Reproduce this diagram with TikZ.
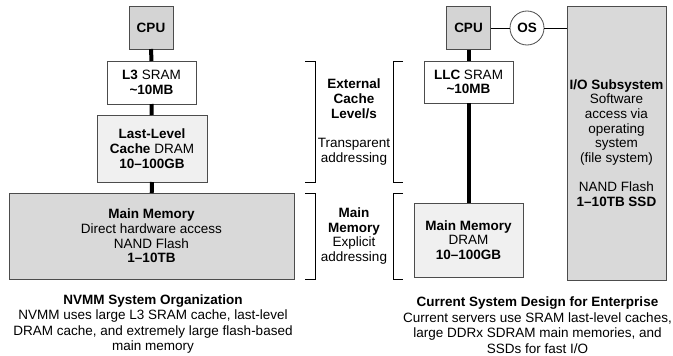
\documentclass[tikz,border=0pt]{standalone}
\usepackage{fontspec}
\setmainfont{Liberation Sans}

\definecolor{cpugray}{gray}{0.83}
\definecolor{memgray}{gray}{0.85}
\definecolor{palegray}{gray}{0.94}
\tikzset{
	box/.style={draw=black!70,line width=0.8pt,align=center,inner sep=0,outer sep=0},
	link/.style={line width=4pt},
	wire/.style={line width=0.8pt},
	brace/.style={line width=0.8pt},
	note/.style={align=center,inner sep=0},
	caption/.style={note,font=\fontsize{13.5}{15.5}\selectfont},
}

\begin{document}
\begin{tikzpicture}[x=1pt,y=-1pt,font=\fontsize{13.5}{14.7}\selectfont]
	\useasboundingbox (0,0) rectangle (673,356);
	% NVMM column
	\node[box,fill=cpugray,minimum width=44,minimum height=43] (cpuL) at (151,27.5) {\textbf{CPU}};
	\node[box,fill=white,minimum width=89,minimum height=43] (l3) at (151.5,82.5) {\textbf{L3} SRAM\\\textbf{\textasciitilde10MB}};
	\node[box,fill=palegray,minimum width=110,minimum height=67] (llc) at (152,148.5) {\textbf{Last-Level}\\\textbf{Cache} DRAM\\\textbf{10--100GB}};
	\node[box,fill=memgray,minimum width=285,minimum height=86] (mmL) at (151.5,236) {\textbf{Main Memory}\\Direct hardware access\\NAND Flash\\\textbf{1--10TB}};
	\draw[link] (cpuL) -- (l3);
	\draw[link] (l3) -- (llc);
	\draw[link] (llc) -- (mmL);
	% enterprise column
	\node[box,fill=cpugray,minimum width=44,minimum height=43] (cpuR) at (468.5,28) {\textbf{CPU}};
	\node[box,fill=white,circle,minimum size=34] (os) at (527,28) {\textbf{OS}};
	\node[box,fill=memgray,minimum width=99,minimum height=274] (io) at (616.5,143) {\textbf{I/O Subsystem}\\Software\\access via\\operating\\system\\(file system)\\[14.7pt]NAND Flash\\\textbf{1--10TB SSD}};
	\node[box,fill=white,minimum width=89,minimum height=42] (llcR) at (468.5,82) {\textbf{LLC} SRAM\\\textbf{\textasciitilde10MB}};
	\node[box,fill=palegray,minimum width=109,minimum height=74] (mmR) at (468.5,240) {\textbf{Main Memory}\\DRAM\\\textbf{10--100GB}};
	\draw[link] (cpuR) -- (llcR);
	\draw[link] (llcR) -- (mmR);
	\draw[wire] (cpuR) -- (os);
	\draw[wire] (os) -- (os -| io.west);
	% brackets and their labels
	\draw[brace] (305,61) -| (315,182) -- (305,182);
	\draw[brace] (305,193) -| (315,279) -- (305,279);
	\draw[brace] (403,61) -| (393,182) -- (403,182);
	\draw[brace] (403,193) -| (393,279) -- (403,279);
	\node[note] (ext) at (354,122) {\textbf{External}\\\textbf{Cache}\\\textbf{Level/s}\\[14.7pt]Transparent\\addressing};
	\node[note] (mem) at (354,236) {\textbf{Main}\\\textbf{Memory}\\Explicit\\addressing};
	% captions
	\node[caption] (capL) at (153,324) {\textbf{NVMM System Organization}\\NVMM uses large L3 SRAM cache, last-level\\DRAM cache, and extremely large flash-based\\main memory};
	\node[caption] (capR) at (537.5,325) {\textbf{Current System Design for Enterprise}\\Current servers use SRAM last-level caches,\\large DDRx SDRAM main memories, and\\SSDs for fast I/O};
\end{tikzpicture}
\end{document}
